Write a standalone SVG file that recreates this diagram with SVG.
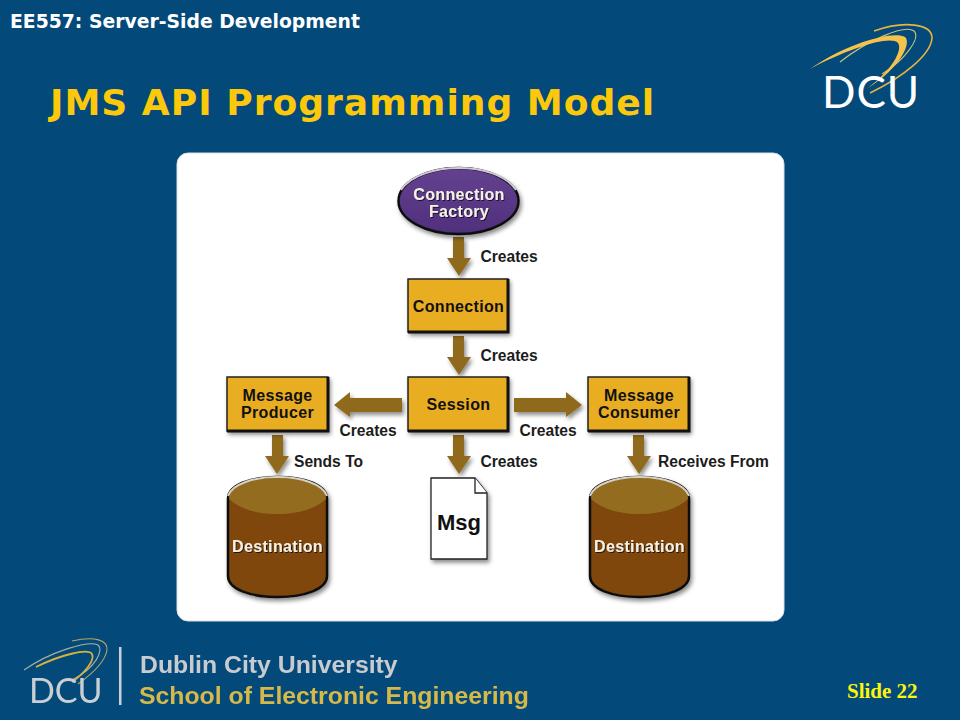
<svg xmlns="http://www.w3.org/2000/svg" width="960" height="720" viewBox="0 0 960 720">
<style>
.lb{font-family:"Liberation Sans",Arial,sans-serif;font-weight:700;font-size:15.6px;fill:#1c1c1c;text-anchor:start}
.nt{font-family:"Liberation Sans",Arial,sans-serif;font-weight:700;font-size:16px;letter-spacing:.35px;fill:#111;text-anchor:middle}
.wt{font-family:"Liberation Sans",Arial,sans-serif;font-weight:700;font-size:16px;letter-spacing:.35px;fill:#f4f0e6;text-anchor:middle;filter:url(#ts)}
.box{fill:#e9ad24;stroke:#222;stroke-width:1.5}
.edge{fill:none;stroke:#111;stroke-width:3}
.arr{fill:#8f6a1c}
.rim{fill:none;stroke:#d8d2c4;stroke-width:2}
</style>
<defs>
<filter id="sh" x="-20%" y="-20%" width="140%" height="140%"><feDropShadow dx="2" dy="3" stdDeviation="2" flood-color="#000" flood-opacity="0.45"/></filter>
<filter id="ts" x="-10%" y="-20%" width="120%" height="150%"><feDropShadow dx="1" dy="1" stdDeviation="0.6" flood-color="#000" flood-opacity="0.7"/></filter>
<filter id="soft" x="-5%" y="-20%" width="110%" height="140%"><feGaussianBlur stdDeviation="0.4"/></filter>
<linearGradient id="pur" x1="0" y1="0" x2="0" y2="1"><stop offset="0" stop-color="#64428f"/><stop offset="1" stop-color="#4f2f7d"/></linearGradient>
</defs>
<rect width="960" height="720" fill="#03497a"/>
<text x="10" y="28" font-family="'DejaVu Sans',Verdana,sans-serif" font-weight="700" font-size="18.8px" fill="#ffffff">EE557: Server-Side Development</text>
<text x="50" y="115" font-family="'DejaVu Sans',Verdana,sans-serif" font-weight="700" font-size="36.1px" letter-spacing="1" fill="#fcc80c">JMS API Programming Model</text>

<g id="logo-top">
<path d="M840 62C868 40 905 24 914 31C921 38 905 60 882 74" fill="none" stroke="#cfc07a" stroke-width="1.1"/>
<path d="M810 69C845 44 893 30 905 37C912 43 900 68 868 88C892 70 903 50 898 43C890 35 850 48 810 69Z" fill="#f5c24c"/>
<path d="M874 31C905 20 932 24 932 38C931 54 905 76 870 93" fill="none" stroke="#e8b440" stroke-width="1.6"/>
<text x="822" y="108" font-family="Lato,'Open Sans',sans-serif" font-size="44px" letter-spacing="1" fill="#ffffff">DCU</text>
</g>

<rect id="panel" x="177" y="153" width="607" height="468" rx="11" fill="#ffffff" stroke="#d7dfe6" stroke-width="1"/>

<g id="connectors" filter="url(#sh)">
<polygon class="arr" points="453,237 464,237 464,258 471,258 459,276 447,258 453,258"/>
<polygon class="arr" points="453,336 464,336 464,357 471,357 459,375 447,357 453,357"/>
<polygon class="arr" points="453,435 464,435 464,456 471,456 459,474 447,456 453,456"/>
<polygon class="arr" points="402,398 350,398 350,392 334,405 350,417 350,412 402,412"/>
<polygon class="arr" points="514,398 566,398 566,392 582,405 566,417 566,412 514,412"/>
<polygon class="arr" points="272,435 283,435 283,456 289,456 277,474 265,456 272,456"/>
<polygon class="arr" points="633,435 644,435 644,456 651,456 639,474 627,456 633,456"/>
</g>

<g id="connector-labels">
<text class="lb" x="480.500" y="262">Creates</text>
<text class="lb" x="480.500" y="361">Creates</text>
<text class="lb" x="480.500" y="467">Creates</text>
<text class="lb" x="339.500" y="436">Creates</text>
<text class="lb" x="519.500" y="436">Creates</text>
<text class="lb" x="294" y="467">Sends To</text>
<text class="lb" x="658" y="467">Receives From</text>
</g>

<g id="connection-factory">
<ellipse cx="458.500" cy="201" rx="60" ry="33" fill="url(#pur)" stroke="#111" stroke-width="2.500" filter="url(#sh)"/>
<path d="M401 190C411 175 436 168 459 168C482 168 506 175 516 190" fill="none" stroke="#cfc8da" stroke-width="2"/>
<text class="wt" x="459" y="200">Connection</text>
<text class="wt" x="459" y="217">Factory</text>
</g>
<g id="connection">
<rect class="box" x="408" y="279" width="100" height="53" filter="url(#sh)"/>
<path class="edge" d="M508 279V332H408"/>
<text class="nt" x="458.500" y="312">Connection</text>
</g>
<g id="session">
<rect class="box" x="408" y="377" width="100" height="54" filter="url(#sh)"/>
<path class="edge" d="M508 377V431H408"/>
<text class="nt" x="458.500" y="410">Session</text>
</g>
<g id="message-producer">
<rect class="box" x="227" y="377" width="101" height="54" filter="url(#sh)"/>
<path class="edge" d="M328 377V431H227"/>
<text class="nt" x="277.500" y="401">Message</text>
<text class="nt" x="277.500" y="418">Producer</text>
</g>
<g id="message-consumer">
<rect class="box" x="588" y="377" width="101" height="54" filter="url(#sh)"/>
<path class="edge" d="M689 377V431H588"/>
<text class="nt" x="639" y="401">Message</text>
<text class="nt" x="639" y="418">Consumer</text>
</g>
<g id="destination-1">
<path d="M228 499C228 485 250 477 277.500 477C305 477 327 485 327 499V576C327 589 305 597 277.500 597C250 597 228 589 228 576Z" fill="#80460c" stroke="#111" stroke-width="2.500" filter="url(#sh)"/>
<path d="M229 499C229 485 250 478 277.500 478C305 478 326 485 326 499C314 510 296 514 277.500 514C259 514 241 510 229 499Z" fill="#936c20"/>
<path class="rim" d="M228 496C232 484 254 477 277.500 477C301 477 323 484 327 496"/>
<text class="wt" x="277.500" y="552">Destination</text>
</g>
<g id="msg">
<path d="M431 478H475L487 493V559H431Z" fill="#ffffff" stroke="#222" stroke-width="1.300" filter="url(#sh)"/>
<path d="M475 478V493H487" fill="#ffffff" stroke="#222" stroke-width="1.300"/>
<text x="459" y="530" font-family="'Liberation Sans',Arial,sans-serif" font-weight="700" font-size="22px" fill="#111" text-anchor="middle">Msg</text>
</g>
<g id="destination-2">
<path d="M590 499C590 485 612 477 639.500 477C667 477 689 485 689 499V576C689 589 667 597 639.500 597C612 597 590 589 590 576Z" fill="#80460c" stroke="#111" stroke-width="2.500" filter="url(#sh)"/>
<path d="M591 499C591 485 612 478 639.500 478C667 478 688 485 688 499C676 510 658 514 639.500 514C621 514 603 510 591 499Z" fill="#936c20"/>
<path class="rim" d="M590 496C594 484 616 477 639.500 477C663 477 685 484 689 496"/>
<text class="wt" x="639.500" y="552">Destination</text>
</g>

<g id="footer" filter="url(#soft)">
<path d="M24 670C50 652 88 640 98 645C104 650 96 668 72 680" fill="none" stroke="#aab0a0" stroke-width="1.100"/>
<path d="M36 667C60 655 88 648 92 654C95 660 86 672 72 682" fill="none" stroke="#d9b13f" stroke-width="1.800"/>
<path d="M72 641C95 636 108 640 107 650C105 662 92 674 78 684" fill="none" stroke="#b9a565" stroke-width="1.100"/>
<text x="29" y="703" font-family="Lato,'Open Sans',sans-serif" font-size="34px" fill="#c9cfd3">DCU</text>
<rect x="119" y="647" width="2.500" height="58" fill="#c9d2d8"/>
<text x="140" y="673" font-family="'Liberation Sans',Arial,sans-serif" font-weight="700" font-size="24.800px" fill="#c8ccd0">Dublin City University</text>
<text x="139" y="704" font-family="'Liberation Sans',Arial,sans-serif" font-weight="700" font-size="24.800px" fill="#d7b94a">School of Electronic Engineering</text>
</g>
<text x="847" y="698" font-family="'Liberation Serif','Times New Roman',serif" font-weight="700" font-size="21px" fill="#fcf40c">Slide 22</text>
</svg>
